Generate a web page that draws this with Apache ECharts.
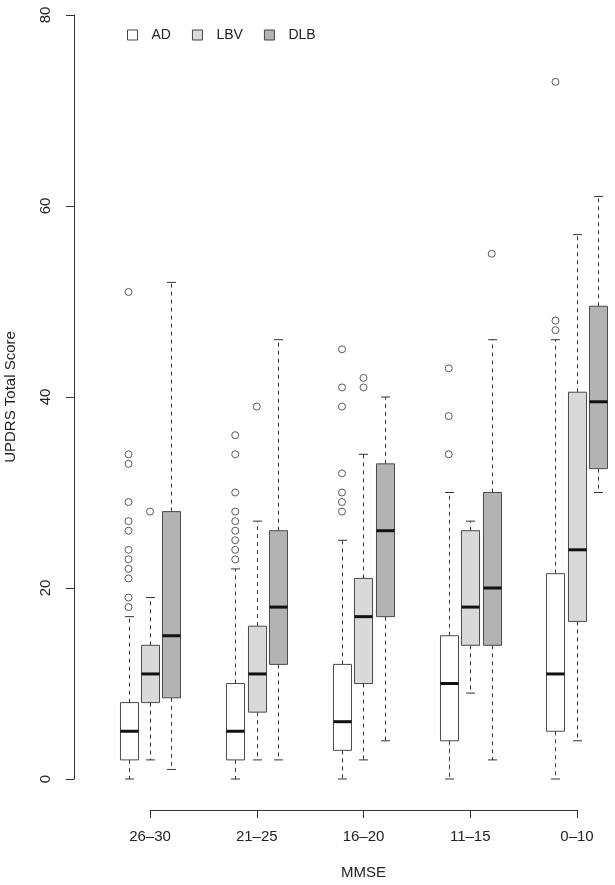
<!DOCTYPE html>
<html>
<head>
<meta charset="utf-8">
<script src="https://cdn.jsdelivr.net/npm/echarts@6/dist/echarts.min.js"></script>
<style>
  html, body { margin: 0; padding: 0; background: #fff; }
  #chart { width: 615px; height: 885px; }
</style>
</head>
<body>
<div id="chart"></div>
<script>
// MMSE groups, left to right
let mmseGroups = ['26\u201330', '21\u201325', '16\u201320', '11\u201315', '0\u201310'];

// box stats per group: [lower whisker, Q1, median, Q3, upper whisker]
let adStats = [[0, 2, 5, 8, 17], [0, 2, 5, 10, 22], [0, 3, 6, 12, 25], [0, 4, 10, 15, 30], [0, 5, 11, 21.5, 46]];
let lbvStats = [[2, 8, 11, 14, 19], [2, 7, 11, 16, 27], [2, 10, 17, 21, 34], [9, 14, 18, 26, 27], [4, 16.5, 24, 40.5, 57]];
let dlbStats = [[1, 8.5, 15, 28, 52], [2, 12, 18, 26, 46], [4, 17, 26, 33, 40], [2, 14, 20, 30, 46], [30, 32.5, 39.5, 49.5, 61]];

// outliers per group
let adOutliers = [[51, 34, 33, 29, 27, 26, 24, 23, 22, 21, 19, 18], [36, 34, 30, 28, 27, 26, 25, 24, 23], [45, 41, 39, 32, 30, 29, 28], [43, 38, 34], [73, 48, 47]];
let lbvOutliers = [[28], [39], [42, 41], [], []];
let dlbOutliers = [[], [], [], [55], []];

let yTicks = [0, 20, 40, 60, 80];

var myChart = echarts.init(document.getElementById('chart'));

const FONT = 'Liberation Sans';
const boxW = 0.169;   // box width in x units
const shift = 0.2014; // distance between boxes in a group

function boxData(stats, off) {
    return stats.map((s, i) => [i + off].concat(s));
}
function outData(outs, off) {
    let res = [];
    outs.forEach((arr, i) => arr.forEach(v => res.push([i + off, v])));
    return res;
}

function renderBox(params, api) {
    const x = api.value(0);
    const lo = api.coord([x, api.value(1)]);
    const q1 = api.coord([x, api.value(2)]);
    const med = api.coord([x, api.value(3)]);
    const q3 = api.coord([x, api.value(4)]);
    const hi = api.coord([x, api.value(5)]);
    const w = api.size([boxW, 0])[0];
    const cx = Math.round(lo[0]) + 0.5;
    const half = w / 2;
    const cap = w / 4;
    const fill = api.visual('color');
    const dash = { stroke: '#333', lineWidth: 1, lineDash: [4, 4] };
    const solid = { stroke: '#333', lineWidth: 1 };
    return {
        type: 'group',
        children: [
            { type: 'line', shape: { x1: cx, y1: q3[1], x2: cx, y2: hi[1] }, style: dash },
            { type: 'line', shape: { x1: cx, y1: q1[1], x2: cx, y2: lo[1] }, style: dash },
            { type: 'line', shape: { x1: cx - cap, y1: hi[1], x2: cx + cap, y2: hi[1] }, style: solid },
            { type: 'line', shape: { x1: cx - cap, y1: lo[1], x2: cx + cap, y2: lo[1] }, style: solid },
            { type: 'rect', shape: { x: cx - half, y: q3[1], width: w, height: q1[1] - q3[1] },
              style: { fill: fill, stroke: '#4a4a4a', lineWidth: 1 } },
            { type: 'line', shape: { x1: cx - half, y1: med[1], x2: cx + half, y2: med[1] },
              style: { stroke: '#111', lineWidth: 3 } }
        ]
    };
}

function boxSeries(name, stats, off, color) {
    return {
        name: name,
        type: 'custom',
        xAxisIndex: 0,
        yAxisIndex: 0,
        itemStyle: { color: color },
        renderItem: renderBox,
        encode: { x: 0, y: [1, 2, 3, 4, 5] },
        data: boxData(stats, off),
        silent: true
    };
}
function outlierSeries(name, outs, off) {
    return {
        name: name,
        type: 'scatter',
        xAxisIndex: 0,
        yAxisIndex: 0,
        symbol: 'circle',
        symbolSize: 7,
        itemStyle: { color: 'rgba(0,0,0,0)', borderColor: '#333', borderWidth: 1 },
        data: outData(outs, off),
        silent: true
    };
}

var option = {
    backgroundColor: '#fff',
    animation: false,
    textStyle: { fontFamily: FONT },
    legend: {
        left: 127,
        top: 28,
        padding: 0,
        itemWidth: 10,
        itemHeight: 10,
        itemGap: 21,
        textStyle: { fontFamily: FONT, fontSize: 14, color: '#222', padding: [0, 0, 0, 9] },
        data: [
            { name: 'AD', icon: 'rect', itemStyle: { color: '#ffffff', borderColor: '#444', borderWidth: 1 } },
            { name: 'LBV', icon: 'rect', itemStyle: { color: '#d9d9d9', borderColor: '#444', borderWidth: 1 } },
            { name: 'DLB', icon: 'rect', itemStyle: { color: '#b3b3b3', borderColor: '#444', borderWidth: 1 } }
        ]
    },
    grid: [
        { left: 74, right: 6, top: 15, bottom: 106, outerBoundsMode: 'none' },
        { left: 150, right: 38, top: 809, height: 1, outerBoundsMode: 'none' }
    ],
    xAxis: [
        { type: 'value', gridIndex: 0, min: -0.712, max: 4.3, show: false },
        {
            type: 'category',
            gridIndex: 1,
            data: mmseGroups,
            boundaryGap: false,
            name: 'MMSE',
            nameLocation: 'middle',
            nameGap: 55,
            nameTextStyle: { fontFamily: FONT, fontSize: 15, color: '#222' },
            axisLine: { show: true, lineStyle: { color: '#333', width: 1 } },
            axisTick: { show: true, length: 8, lineStyle: { color: '#333' } },
            axisLabel: { margin: 19, fontFamily: FONT, fontSize: 15, color: '#222', interval: 0 },
            splitLine: { show: false }
        }
    ],
    yAxis: [
        {
            type: 'value',
            gridIndex: 0,
            min: yTicks[0],
            max: yTicks[yTicks.length - 1],
            interval: 20,
            name: 'UPDRS Total Score',
            nameLocation: 'middle',
            nameGap: 56,
            nameTextStyle: { fontFamily: FONT, fontSize: 15, color: '#222' },
            axisLine: { show: true, onZero: false, lineStyle: { color: '#333', width: 1 } },
            axisTick: { show: true, length: 8, lineStyle: { color: '#333' } },
            axisLabel: { rotate: 90, margin: 21, fontFamily: FONT, fontSize: 15, color: '#222' },
            splitLine: { show: false }
        },
        { type: 'value', gridIndex: 1, show: false }
    ],
    series: [
        boxSeries('AD', adStats, -shift, '#ffffff'),
        boxSeries('LBV', lbvStats, 0, '#d9d9d9'),
        boxSeries('DLB', dlbStats, shift, '#b3b3b3'),
        outlierSeries('AD', adOutliers, -shift),
        outlierSeries('LBV', lbvOutliers, 0),
        outlierSeries('DLB', dlbOutliers, shift)
    ]
};

myChart.setOption(option);
</script>
</body>
</html>
